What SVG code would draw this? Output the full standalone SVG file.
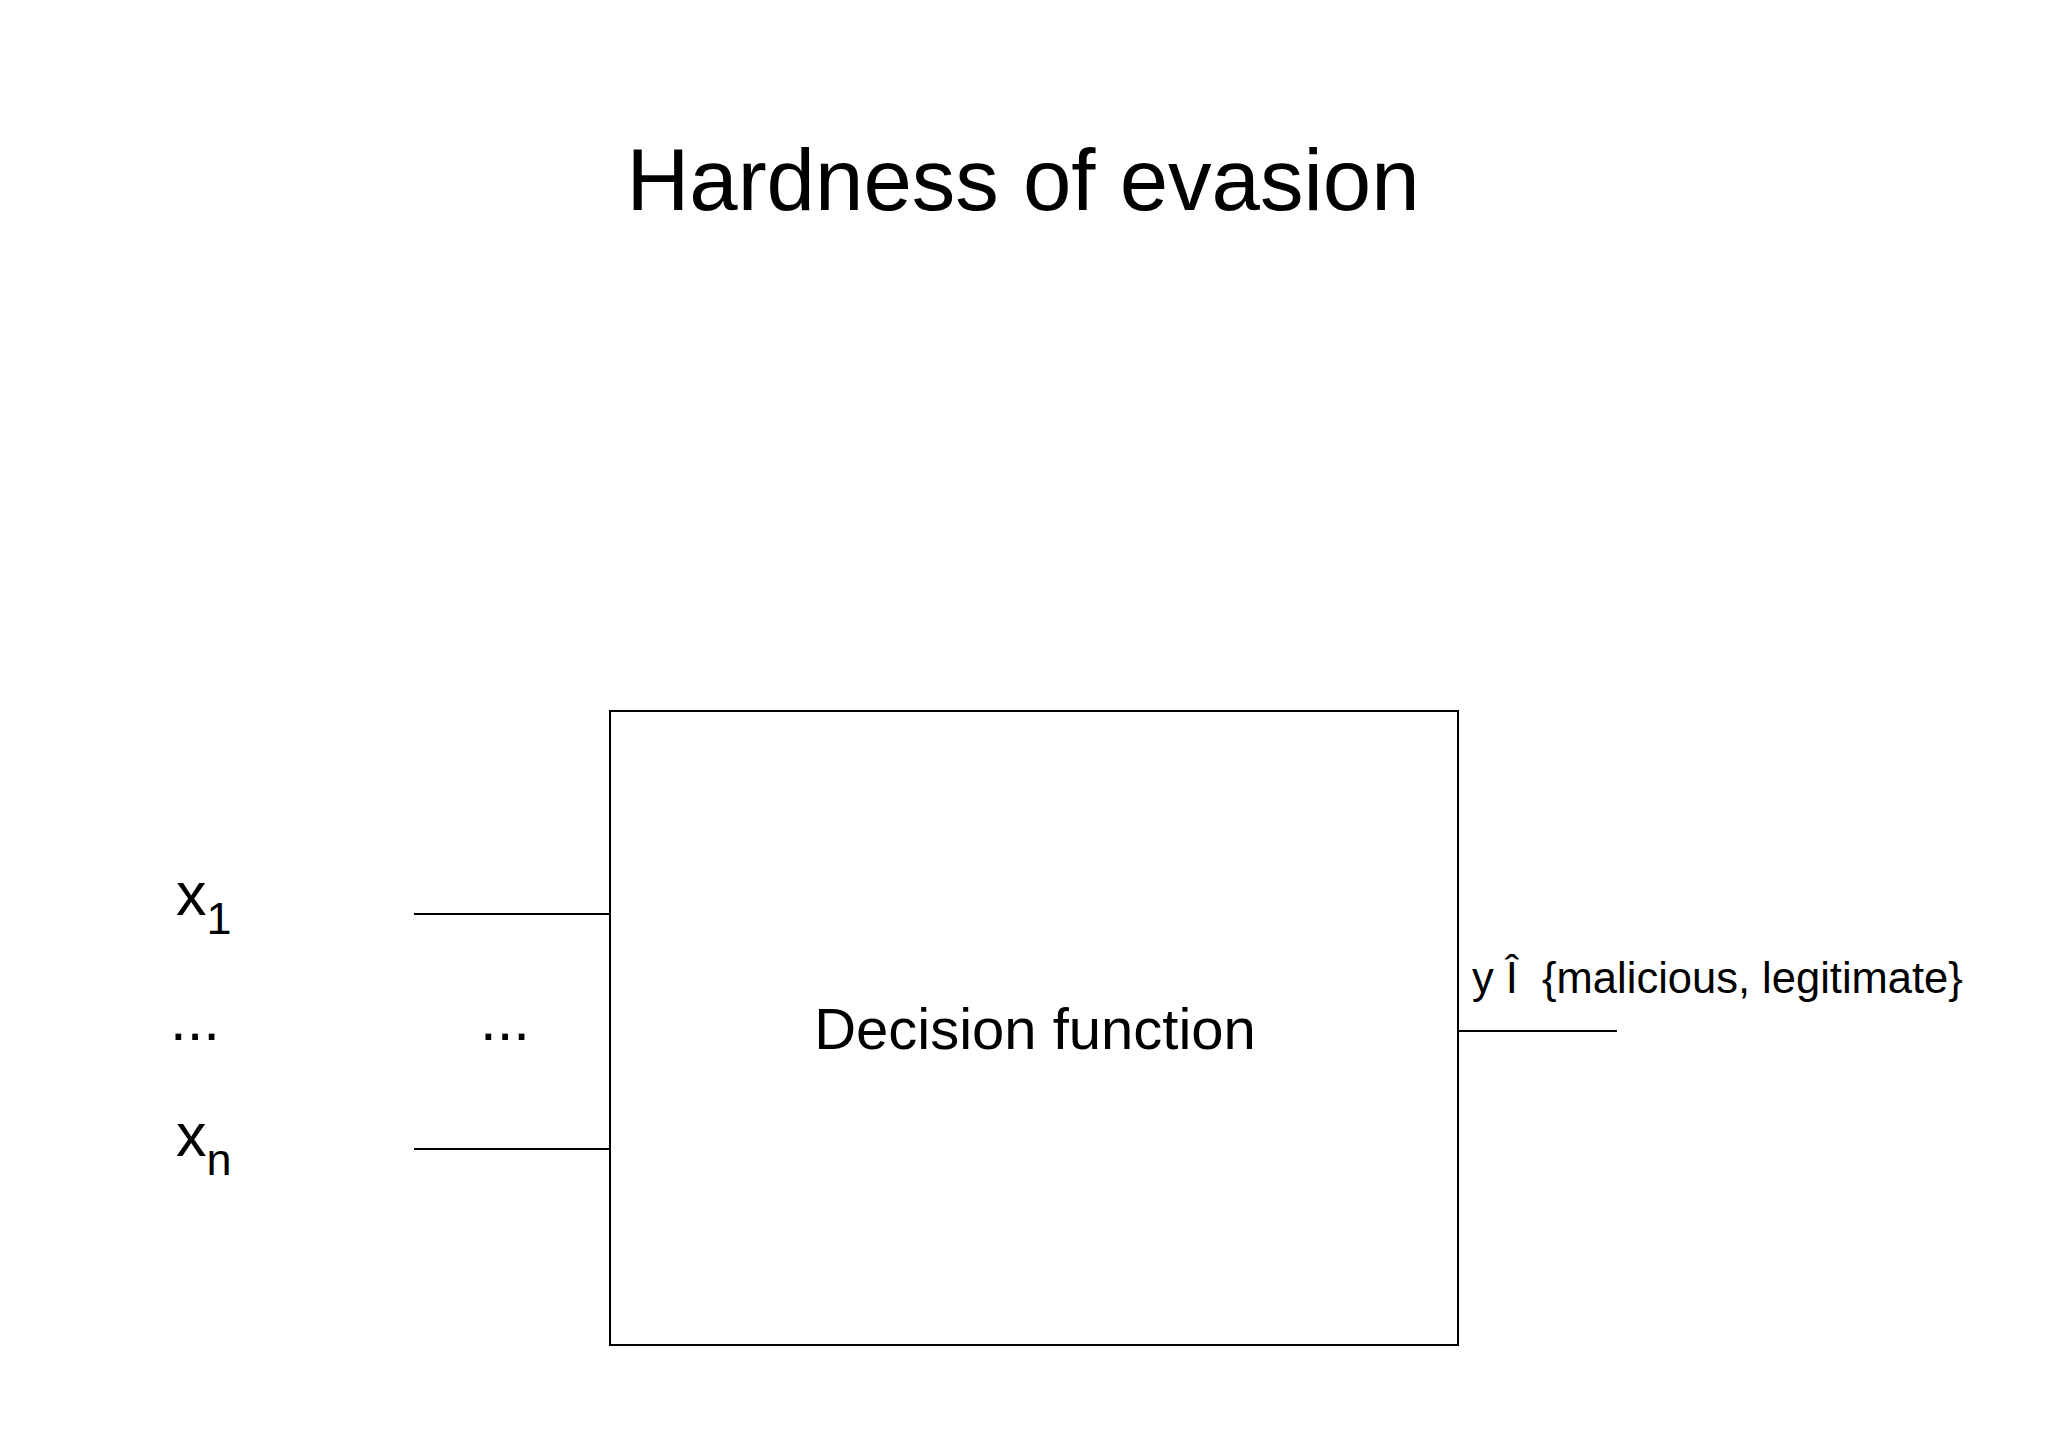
<svg xmlns="http://www.w3.org/2000/svg" width="2048" height="1447" viewBox="0 0 2048 1447">
<style>
text{font-family:"Liberation Sans",Arial,sans-serif;fill:#000}
.ln{stroke:#000;stroke-width:2;fill:none}
</style>
<rect width="2048" height="1447" fill="#fff"/>
<g id="title"><text x="1023" y="210" font-size="87" text-anchor="middle">Hardness of evasion</text></g>
<g id="decision"><rect class="ln" x="610" y="711" width="848" height="634"/>
<text x="1035" y="1049" font-size="58" text-anchor="middle">Decision function</text></g>
<g id="x1"><text x="176" y="915" font-size="61">x<tspan font-size="45" dy="19">1</tspan></text></g>
<g id="dots1"><text x="170" y="1040" font-size="60">...</text></g>
<g id="dots2"><text x="480" y="1040" font-size="60">...</text></g>
<g id="xn"><text x="176" y="1156" font-size="61">x<tspan font-size="45" dy="19">n</tspan></text></g>
<g id="output"><text x="1472" y="993" font-size="43.5" xml:space="preserve">y Î  {malicious, legitimate}</text></g>
<g id="connectors">
<line class="ln" x1="414" y1="914" x2="610" y2="914"/>
<line class="ln" x1="414" y1="1149" x2="610" y2="1149"/>
<line class="ln" x1="1458" y1="1031" x2="1617" y2="1031"/>
</g>
</svg>
